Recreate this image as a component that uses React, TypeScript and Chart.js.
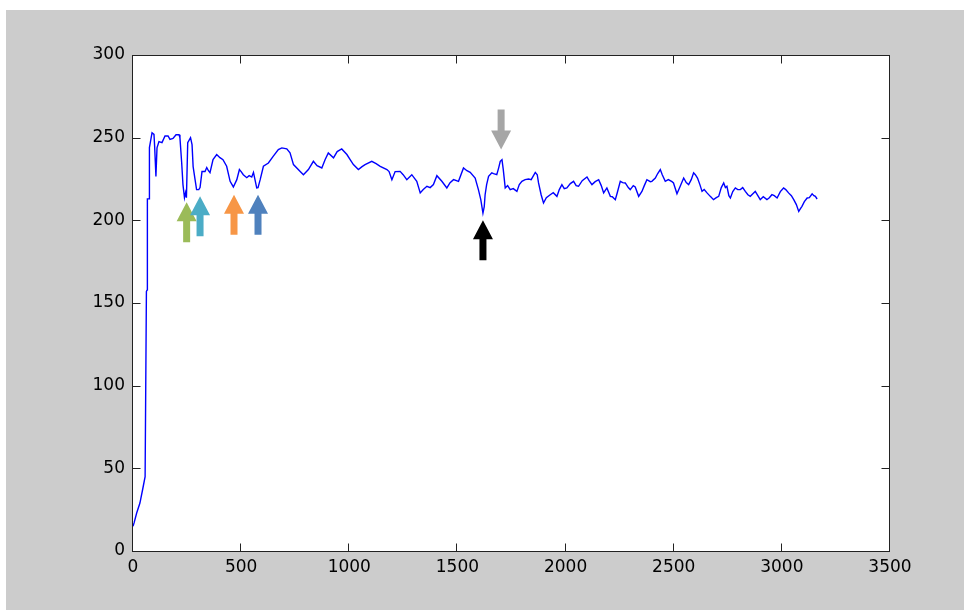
import React, { useEffect, useRef } from "react";
import { Chart, registerables } from "chart.js";

Chart.register(...registerables);

// Series (x = sample index, y = value)
const xValues = [
  0, 5, 17, 32, 45, 56, 60, 62, 66, 66.5, 75, 76, 88, 97, 100, 106, 111, 120, 134, 148,
  162, 171, 185, 199, 213, 217, 225, 231, 238, 243, 247, 253, 266, 273, 278, 287, 294, 304, 310, 319,
  333, 341, 349, 356, 370, 387, 402, 416, 433, 449, 464, 480, 492, 500, 510, 526, 537, 549, 557, 572,
  578, 588, 603, 626, 648, 672, 688, 711, 726, 742, 773, 788, 811, 834, 851, 873, 888, 903, 927, 944,
  965, 989, 1004, 1019, 1042, 1059, 1073, 1104, 1124, 1143, 1174, 1184, 1197, 1212, 1235, 1249, 1266, 1289, 1312, 1328,
  1342, 1359, 1374, 1389, 1405, 1428, 1451, 1466, 1482, 1505, 1528, 1544, 1559, 1582, 1597, 1608, 1618, 1624, 1628, 1635,
  1644, 1659, 1667, 1682, 1691, 1698, 1706, 1712, 1721, 1732, 1744, 1758, 1775, 1786, 1798, 1813, 1829, 1841, 1860, 1869,
  1875, 1887, 1898, 1911, 1929, 1943, 1960, 1971, 1983, 1994, 2006, 2022, 2037, 2049, 2060, 2077, 2099, 2109, 2122, 2137,
  2153, 2165, 2176, 2191, 2207, 2216, 2230, 2239, 2253, 2264, 2276, 2290, 2299, 2313, 2322, 2338, 2353, 2364, 2376, 2392,
  2399, 2415, 2426, 2438, 2447, 2461, 2475, 2492, 2499, 2515, 2530, 2546, 2558, 2569, 2581, 2592, 2600, 2610, 2621, 2631,
  2641, 2654, 2669, 2684, 2697, 2708, 2720, 2731, 2739, 2746, 2755, 2762, 2773, 2785, 2796, 2808, 2819, 2831, 2843, 2854,
  2866, 2877, 2889, 2900, 2914, 2931, 2942, 2954, 2965, 2978, 2993, 3008, 3018, 3031, 3044, 3055, 3067, 3078, 3086, 3093,
  3104, 3117, 3127, 3140, 3148, 3155, 3163,
];

const yValues = [
  15, 17, 23, 29, 37.5, 45, 45, 157, 158, 213, 213, 244, 253, 252, 245, 226.6, 243.8, 247.6, 247, 251,
  251, 249, 249.5, 251.8, 251.8, 250, 235, 221.6, 213.7, 216.7, 213.7, 247, 250, 245.8, 232.5, 224.6, 218.6, 218.6, 219.8, 229.5,
  229.5, 231.9, 230, 228.8, 236.7, 239.8, 237.9, 236.7, 232.7, 223.6, 220.2, 224.6, 230.7, 229.5, 227.6, 225.8, 227, 226.2, 229, 219.6,
  219.8, 224.6, 232.7, 234.7, 238.7, 242.8, 243.8, 243.2, 240.8, 233.7, 229.6, 227.6, 230.7, 235.7, 233.1, 231.7, 236.7, 240.8, 237.8, 241.6,
  243.2, 239.8, 236.7, 233.7, 230.7, 232.5, 233.7, 235.7, 234.3, 232.7, 230.7, 229.5, 224.6, 229.5, 229.6, 227.6, 224.6, 227.6, 223.6, 216.6,
  218.6, 220.6, 219.8, 221.6, 227, 223.6, 219.6, 222.8, 224.6, 223.6, 231.7, 230, 229, 225.6, 218.6, 212.5, 204.4, 208.3, 215.5, 221.6,
  226.6, 228.7, 228.3, 227.6, 231.9, 235.7, 236.7, 230.7, 219.6, 221, 218.6, 219.2, 217.5, 221.6, 223.6, 224.6, 225, 224.6, 229, 227.6,
  222.6, 215.5, 210.5, 213.7, 215.5, 216.7, 214.5, 218.6, 221.6, 219.2, 219.6, 222.2, 223.6, 221, 220.6, 224, 226.2, 224, 221.6, 223.4,
  224.6, 221, 216.6, 219.6, 214.5, 214.3, 212.5, 216.7, 223.6, 222.8, 222.6, 219.8, 218.6, 221, 220.2, 214.5, 217.5, 221, 224.6, 223.4,
  223.6, 225.6, 228.3, 230.7, 227.6, 223.6, 224.6, 223.4, 222.6, 216.1, 220.6, 225.6, 222.8, 221.6, 224.6, 228.7, 227.6, 225.6, 221.6, 217.5,
  218.6, 216.6, 214.5, 212.5, 213.7, 214.5, 219.8, 222.6, 219.8, 220.6, 214.9, 213.5, 217.4, 219.6, 218.6, 218.6, 219.8, 217.5, 215.5, 214.5,
  216.1, 217.5, 214.9, 212.5, 214.3, 212.5, 213.7, 215.5, 214.9, 213.5, 217.4, 219.6, 218.6, 216.6, 214.9, 212.5, 209.5, 205.4, 207.1, 208.5,
  211.3, 213.5, 213.7, 216, 214.9, 214.5, 212.9,
];

// Axis ticks
const xTicks = [0, 500, 1000, 1500, 2000, 2500, 3000, 3500];
const yTicks = [0, 50, 100, 150, 200, 250, 300];

// Arrow annotations (tip position in data units)
const arrowX = [248, 310, 467, 578, 1618, 1702];
const arrowY = [211, 214.5, 215.5, 215.5, 200, 242.8];
const arrowDir = ["up", "up", "up", "up", "up", "down"];
const arrowColors = ["#9BBB59", "#4BACC6", "#F79646", "#4F81BD", "#000000", "#A6A6A6"];

const framePlugin = {
  id: "frameTicks",
  beforeDraw(chart: any) {
    const { ctx, chartArea } = chart;
    ctx.save();
    ctx.fillStyle = "#ffffff";
    ctx.fillRect(
      chartArea.left,
      chartArea.top,
      chartArea.right - chartArea.left,
      chartArea.bottom - chartArea.top
    );
    ctx.restore();
  },
  afterDraw(chart: any) {
    const { ctx, chartArea } = chart;
    const xs = chart.scales.x;
    const ys = chart.scales.y;
    const L = Math.round(chartArea.left) - 0.5;
    const R = Math.round(chartArea.right) - 0.5;
    const T = Math.round(chartArea.top) + 0.5;
    const B = Math.round(chartArea.bottom) + 0.5;
    ctx.save();
    ctx.strokeStyle = "#222";
    ctx.lineWidth = 1;
    ctx.strokeRect(L, T, R - L, B - T);
    const tl = 8;
    ctx.beginPath();
    xTicks.forEach((v) => {
      const p = Math.round(xs.getPixelForValue(v)) - 0.5;
      ctx.moveTo(p, B);
      ctx.lineTo(p, B - tl);
      ctx.moveTo(p, T);
      ctx.lineTo(p, T + tl);
    });
    yTicks.forEach((v) => {
      const p = Math.round(ys.getPixelForValue(v)) + 0.5;
      ctx.moveTo(L, p);
      ctx.lineTo(L + tl, p);
      ctx.moveTo(R, p);
      ctx.lineTo(R - tl, p);
    });
    ctx.stroke();

    // arrows
    const headLen = 19;
    const headHalf = 10;
    const shaftHalf = 3.5;
    const total = 40;
    arrowX.forEach((ax, i) => {
      const px = xs.getPixelForValue(ax);
      const py = ys.getPixelForValue(arrowY[i]);
      const s = arrowDir[i] === "up" ? 1 : -1;
      ctx.fillStyle = arrowColors[i];
      ctx.beginPath();
      ctx.moveTo(px, py);
      ctx.lineTo(px + headHalf, py + s * headLen);
      ctx.lineTo(px + shaftHalf, py + s * headLen);
      ctx.lineTo(px + shaftHalf, py + s * total);
      ctx.lineTo(px - shaftHalf, py + s * total);
      ctx.lineTo(px - shaftHalf, py + s * headLen);
      ctx.lineTo(px - headHalf, py + s * headLen);
      ctx.closePath();
      ctx.fill();
    });
    ctx.restore();
  },
};

export default function App() {
  const ref = useRef<HTMLCanvasElement | null>(null);

  useEffect(() => {
    if (!ref.current) return;
    const chart = new Chart(ref.current, {
      type: "line",
      data: {
        datasets: [
          {
            data: xValues.map((x, i) => ({ x, y: yValues[i] })),
            borderColor: "#0000FF",
            borderWidth: 1.4,
            pointRadius: 0,
            tension: 0,
            fill: false,
          },
        ],
      },
      options: {
        animation: false,
        responsive: false,
        maintainAspectRatio: false,
        layout: { padding: { left: 0, top: 45, right: 74, bottom: 0 } },
        plugins: {
          legend: { display: false },
          tooltip: { enabled: false },
        },
        scales: {
          x: {
            type: "linear",
            min: 0,
            max: 3500,
            afterBuildTicks: (scale: any) => {
              scale.ticks = xTicks.map((v) => ({ value: v }));
            },
            afterFit: (scale: any) => {
              scale.height = 59;
            },
            ticks: {
              padding: 6,
              maxRotation: 0,
              autoSkip: false,
              color: "#000",
              font: { family: "DejaVu Sans", size: 17 },
              callback: (v: any) => String(v),
            },
            grid: { display: false, drawTicks: false },
            border: { display: false },
          },
          y: {
            type: "linear",
            min: 0,
            max: 300,
            afterBuildTicks: (scale: any) => {
              scale.ticks = yTicks.map((v) => ({ value: v }));
            },
            afterFit: (scale: any) => {
              scale.width = 127;
            },
            ticks: {
              padding: 8,
              autoSkip: false,
              color: "#000",
              font: { family: "DejaVu Sans", size: 17 },
              callback: (v: any) => String(v),
            },
            grid: { display: false, drawTicks: false },
            border: { display: false },
          },
        },
      },
      plugins: [framePlugin],
    });
    return () => chart.destroy();
  }, []);

  return (
    <div
      style={{
        position: "absolute",
        left: 6,
        top: 10,
        width: 958,
        height: 600,
        background: "#cccccc",
      }}
    >
      <canvas ref={ref} width={958} height={600} style={{ display: "block", width: 958, height: 600 }} />
    </div>
  );
}
